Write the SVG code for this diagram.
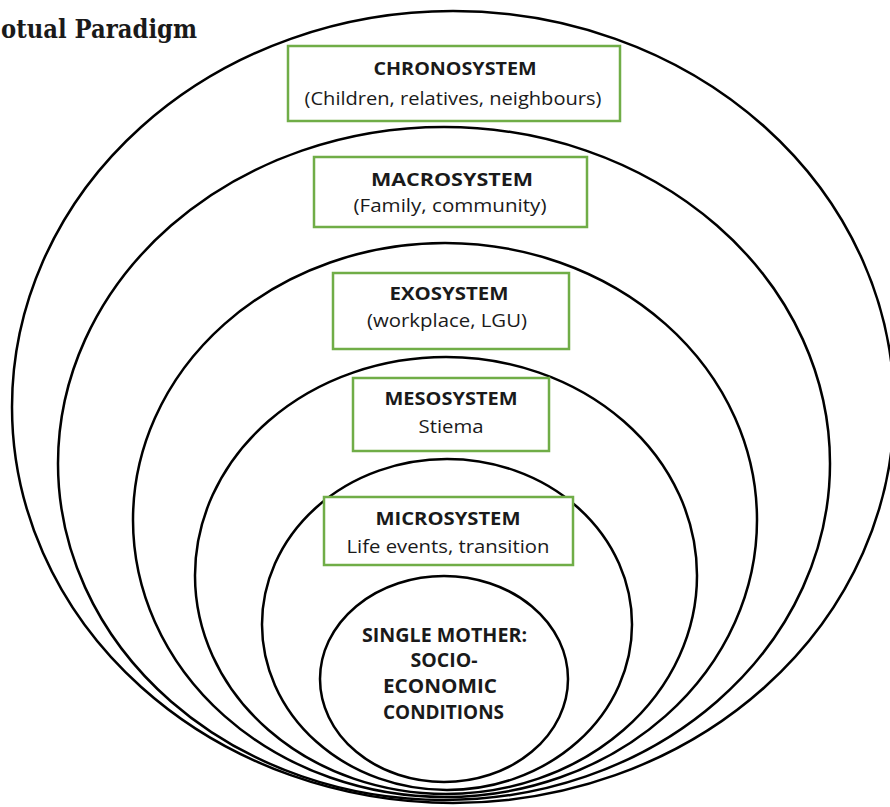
<svg xmlns="http://www.w3.org/2000/svg" width="890" height="807" viewBox="0 0 890 807">
  <style>
    .ring { fill: none; stroke: #000; stroke-width: 2.5; }
    .box { fill: #fff; stroke: #70ad47; stroke-width: 2.5; }
    .t { font-family: "Open Sans", "Liberation Sans", sans-serif; font-weight: bold; font-size: 18px; fill: #1a1a1a; text-anchor: middle; }
    .s { font-family: "Open Sans", "Liberation Sans", sans-serif; font-size: 18px; fill: #1a1a1a; text-anchor: middle; }
    .c { font-family: "Open Sans", "Liberation Sans", sans-serif; font-weight: bold; font-size: 19px; fill: #1a1a1a; text-anchor: middle; }
    .h { font-family: "DejaVu Serif", "Liberation Serif", serif; font-weight: bold; font-size: 25.5px; fill: #1a1a1a; }
  </style>
  <rect width="890" height="807" fill="#fff"/>
  <text class="h" x="1" y="38" textLength="196" lengthAdjust="spacingAndGlyphs">otual Paradigm</text>

  <g id="connectors">
    <ellipse id="ring-chrono" class="ring" cx="453" cy="407" rx="441" ry="396"/>
    <ellipse id="ring-macro" class="ring" cx="444" cy="463.5" rx="386" ry="336.5"/>
    <ellipse id="ring-exo" class="ring" cx="445" cy="520" rx="312" ry="277"/>
    <ellipse id="ring-meso" class="ring" cx="446" cy="575.5" rx="251" ry="218.5"/>
    <ellipse id="ring-micro" class="ring" cx="447" cy="624.5" rx="185" ry="165.5"/>
  </g>

  <g id="chronosystem">
    <rect class="box" x="288" y="46" width="332" height="75"/>
    <text class="t" x="455" y="75" textLength="163" lengthAdjust="spacingAndGlyphs">CHRONOSYSTEM</text>
    <text class="s" x="453" y="105" textLength="297" lengthAdjust="spacingAndGlyphs">(Children, relatives, neighbours)</text>
  </g>
  <g id="macrosystem">
    <rect class="box" x="314" y="157" width="273" height="70"/>
    <text class="t" x="452" y="186" textLength="162" lengthAdjust="spacingAndGlyphs">MACROSYSTEM</text>
    <text class="s" x="450" y="212" textLength="193" lengthAdjust="spacingAndGlyphs">(Family, community)</text>
  </g>
  <g id="exosystem">
    <rect class="box" x="333" y="273" width="236" height="76"/>
    <text class="t" x="449" y="300" textLength="119" lengthAdjust="spacingAndGlyphs">EXOSYSTEM</text>
    <text class="s" x="447" y="327" textLength="160" lengthAdjust="spacingAndGlyphs">(workplace, LGU)</text>
  </g>
  <g id="mesosystem">
    <rect class="box" x="353" y="378" width="196" height="73"/>
    <text class="t" x="451" y="405" textLength="133" lengthAdjust="spacingAndGlyphs">MESOSYSTEM</text>
    <text class="s" x="451" y="433" textLength="65" lengthAdjust="spacingAndGlyphs">Stiema</text>
  </g>
  <g id="microsystem">
    <rect class="box" x="324" y="497" width="249" height="68"/>
    <text class="t" x="448" y="525" textLength="145" lengthAdjust="spacingAndGlyphs">MICROSYSTEM</text>
    <text class="s" x="448" y="553" textLength="203" lengthAdjust="spacingAndGlyphs">Life events, transition</text>
  </g>
  <g id="single-mother">
    <ellipse class="ring" cx="444" cy="679" rx="124" ry="103"/>
    <text class="c" x="444.5" y="642" textLength="165" lengthAdjust="spacingAndGlyphs">SINGLE MOTHER:</text>
    <text class="c" x="444" y="667" textLength="67" lengthAdjust="spacingAndGlyphs">SOCIO-</text>
    <text class="c" x="440" y="693" textLength="114" lengthAdjust="spacingAndGlyphs">ECONOMIC</text>
    <text class="c" x="443.5" y="719" textLength="121" lengthAdjust="spacingAndGlyphs">CONDITIONS</text>
  </g>
</svg>
